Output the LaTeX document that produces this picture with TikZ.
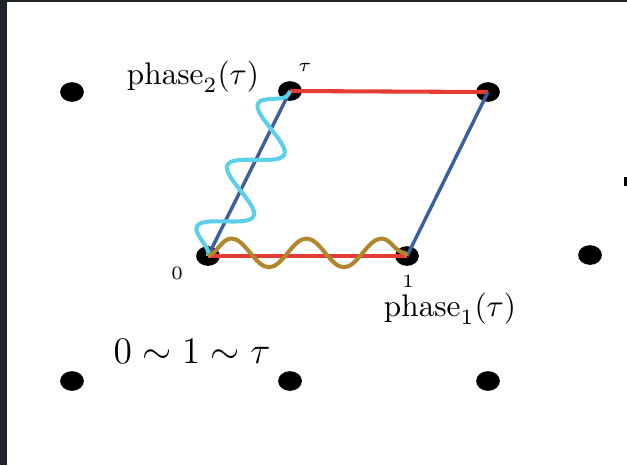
\documentclass[tikz,border=0pt]{standalone}
\usepackage{amsmath,amssymb}
\usepackage{xcolor}
\usepackage{tikz}
\usetikzlibrary{shapes.geometric,decorations.pathmorphing}

\definecolor{latred}{HTML}{E43C34}
\definecolor{latblue}{HTML}{3C5F9E}
\definecolor{wavecyan}{HTML}{5CD0EA}
\definecolor{wavegold}{HTML}{B2862C}
\definecolor{framegray}{HTML}{1F2528}

\tikzset{
  latdot/.style={ellipse,fill=black,inner sep=0pt,minimum width=7.6pt,minimum height=6.3pt},
  redline/.style={latred,line width=1.3pt},
  blueline/.style={latblue,line width=1.1pt},
  cyanwave/.style={wavecyan,line width=1.3pt,line join=round,decorate,
    decoration={snake,amplitude=7.4pt,segment length=22pt}},
  goldwave/.style={wavegold,line width=1.3pt,line join=round,decorate,
    decoration={snake,amplitude=4.6pt,segment length=24pt,raise=1pt}},
  smalllbl/.style={font=\fontsize{6}{7}\selectfont}
}

\begin{document}
\begin{tikzpicture}[x=0.32pt,y=-0.32pt]
\useasboundingbox (0,0) rectangle (627,465);
\fill[framegray] (0,0) rectangle (7,465);
\fill[framegray] (0,0) rectangle (627,2);
\fill[black] (624,177) rectangle (627,186);

% lattice points
\node[latdot] (m) at (72,92) {};
\node[latdot] (tau) at (290,91) {};
\node[latdot] (taup) at (488,92) {};
\node[latdot] (o) at (208,256) {};
\node[latdot] (one) at (407,256) {};
\node[latdot] (two) at (590,255) {};
\node[latdot] (b1) at (72,381) {};
\node[latdot] (b2) at (290,381) {};
\node[latdot] (b3) at (488,381) {};

% fundamental cell
\draw[redline] (o.center) -- (one.center);
\draw[redline] (tau.center) -- (taup.center);
\draw[blueline] (o.center) -- (tau.center);
\draw[blueline] (one.center) -- (taup.center);

% phases
\draw[cyanwave] (o.center) -- (tau.center);
\draw[goldwave] (o.center) -- (one.center);

\node (ph2) at (193,77) {$\mathrm{phase}_2(\tau)$};
\node[smalllbl] (ltau) at (305,67) {$\tau$};
\node[smalllbl] (lzero) at (177,273) {$0$};
\node[smalllbl] (lone) at (408,281) {$1$};
\node (ph1) at (450,309) {$\mathrm{phase}_1(\tau)$};
\node[font=\large] (equiv) at (192,351) {$0\sim1\sim\tau$};
\end{tikzpicture}
\end{document}
